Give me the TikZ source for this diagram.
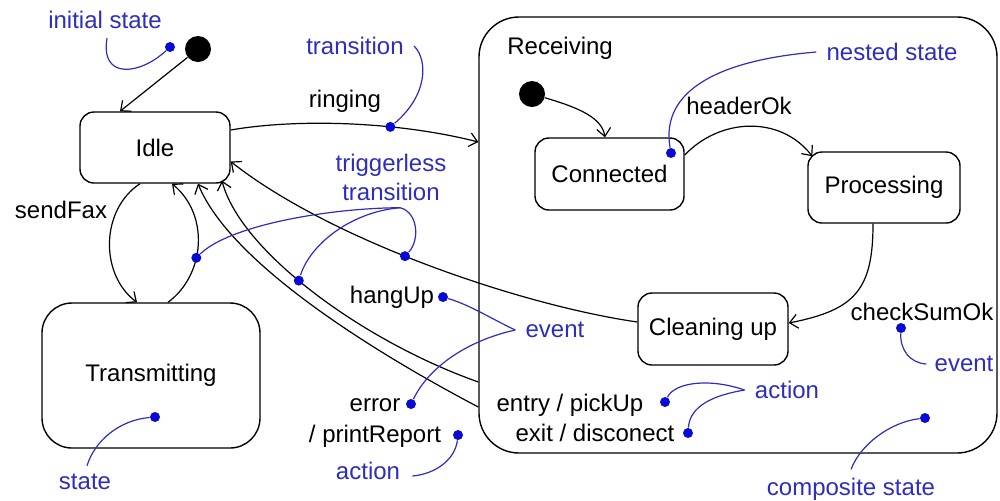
\documentclass[tikz,border=0pt]{standalone}
\usepackage{fontspec}
\setmainfont{Liberation Sans}
\usetikzlibrary{arrows.meta}
\definecolor{noteblue}{RGB}{45,45,190}
\definecolor{dotblue}{RGB}{10,10,215}

\begin{document}
\begin{tikzpicture}[x=0.5pt,y=-0.5pt,font=\fontsize{12}{14.5}\selectfont,
  state/.style={draw,rounded corners=7pt,line width=0.7pt,inner sep=0pt},
  start/.style={circle,fill=black,inner sep=0pt,minimum size=13pt},
  bdot/.style={circle,fill=dotblue,inner sep=0pt,minimum size=5pt},
  note/.style={text=noteblue,inner sep=1pt},
  lbl/.style={inner sep=1pt},
  arr/.style={-{Straight Barb[length=4pt,width=7pt]},line width=0.6pt},
  callout/.style={noteblue,line width=0.6pt}]

\useasboundingbox (0,0) rectangle (1000,500);

% states
\node[state,minimum width=75pt,minimum height=35.5pt] (idle) at (155,147.5) {Idle};
\node[state,rounded corners=15pt,minimum width=109pt,minimum height=72.5pt] (xmit) at (151,375.5) {Transmitting};
\node[state,rounded corners=20pt,minimum width=259pt,minimum height=218pt] (recv) at (738,235) {};
\node[lbl,anchor=west] (recvname) at (505,48) {Receiving};
\node[state,minimum width=74.5pt,minimum height=36pt] (conn) at (609.5,174) {Connected};
\node[state,minimum width=76pt,minimum height=35.5pt] (proc) at (884,187.5) {Processing};
\node[state,minimum width=75pt,minimum height=36pt] (clean) at (713,329) {Cleaning up};
\node[start] (init) at (198,49) {};
\node[start] (init2) at (532,94) {};

% transitions
\draw[arr] (init) -- ([xshift=-17.5pt]idle.north);
\draw[arr] ([yshift=8.75pt]idle.east) .. controls (300,118) and (400,122) .. ([yshift=46.5pt]recv.west) node[bdot,pos=0.65] (dring) {};
\draw[arr] ([xshift=-7.5pt]idle.south) .. controls (100,210) and (100,275) .. ([xshift=-7pt]xmit.north);
\draw[arr] ([xshift=8.5pt]xmit.north) .. controls (205,275) and (210,215) .. ([xshift=8.5pt]idle.south) node[bdot,pos=0.4] (dret) {};
\draw[arr] ([yshift=-86pt]recv.west) .. controls (370,350) and (230,262) .. ([xshift=21.5pt]idle.south);
\draw[arr] ([yshift=-73.5pt]recv.west) .. controls (360,340) and (240,250) .. ([xshift=33.5pt,yshift=1.5pt]idle.south) node[bdot,pos=0.55] (dhang) {};
\draw[arr] ([yshift=3.5pt]clean.west) .. controls (520,305) and (330,240) .. ([yshift=-7pt]idle.east) node[bdot,pos=0.55] (dclean) {};
\draw[arr] (init2) .. controls (580,108) and (602,118) .. ([xshift=-2.25pt]conn.north);
\draw[arr] ([yshift=9.5pt]conn.east) .. controls (720,118) and (780,115) .. ([xshift=2.5pt,yshift=-2.5pt]proc.north west);
\draw[arr] ([xshift=-5.5pt]proc.south) .. controls (873,290) and (855,310) .. ([yshift=3pt]clean.east);

\node[lbl] (lring) at (345,101) {ringing};
\node[lbl] (lsend) at (61,210) {sendFax};
\node[lbl] (lhead) at (739,106) {headerOk};
\node[lbl] (lhang) at (392,297) {hangUp};
\node[lbl] (lerr) at (375,405) {error};
\node[lbl] (lprint) at (375,436) {/ printReport};
\node[lbl] (lcheck) at (922,312) {checkSumOk};
\node[lbl] (lentry) at (570,405) {entry / pickUp};
\node[lbl] (lexit) at (595,433) {exit / disconect};

% notes
\node[bdot] (dinit) at (170,47) {};
\node[bdot] (dconn) at (671,153) {};
\node[bdot] (dhangup) at (443,297) {};
\node[bdot] (derr) at (411,404) {};
\node[bdot] (dprint) at (458,435) {};
\node[bdot] (dstate) at (155,417) {};
\node[bdot] (dcheck) at (901,328) {};
\node[bdot] (dentry) at (665,402) {};
\node[bdot] (dexit) at (688,433) {};
\node[bdot] (dcomp) at (925,418) {};

\node[note] (ninit) at (105,20) {initial state};
\node[note] (ntrans) at (355,46) {transition};
\node[note] (nnest) at (892,52) {nested state};
\node[note,align=center] (ntrig) at (391,177) {triggerless\\transition};
\node[note] (nev1) at (555,330) {event};
\node[note] (nact1) at (368,471) {action};
\node[note] (nstate) at (85,482) {state};
\node[note] (nev2) at (964,364) {event};
\node[note] (nact2) at (787,390) {action};
\node[note] (ncomp) at (851,489) {composite state};

\coordinate (ttrig) at ([xshift=4.5pt,yshift=-2.5pt]ntrig.south);
\coordinate (tev1) at ([xshift=-4pt]nev1.west);
\coordinate (tact2) at ([xshift=-4pt]nact2.west);

\draw[callout] (dinit) .. controls (140,75) and (100,80) .. ([xshift=1pt,yshift=-3.5pt]ninit.south);
\draw[callout] (dring) .. controls (428,95) and (428,60) .. ([xshift=4pt]ntrans.east);
\draw[callout] (dconn) .. controls (660,90) and (720,60) .. ([xshift=-4pt]nnest.west);
\draw[callout] (ttrig) .. controls (330,208) and (230,225) .. (dret);
\draw[callout] (ttrig) .. controls (350,212) and (310,245) .. (dhang);
\draw[callout] (ttrig) .. controls (418,212) and (420,240) .. (dclean);
\draw[callout] (dhangup) .. controls (470,305) and (490,318) .. (tev1);
\draw[callout] (derr) .. controls (430,365) and (470,340) .. (tev1);
\draw[callout] (dprint) .. controls (455,460) and (435,474) .. ([xshift=5pt,yshift=-2.5pt]nact1.east);
\draw[callout] (dstate) .. controls (120,420) and (95,440) .. ([xshift=1pt,yshift=3pt]nstate.north);
\draw[callout] (dcheck) .. controls (900,350) and (910,363) .. ([xshift=-3pt]nev2.west);
\draw[callout] (tact2) .. controls (710,378) and (675,382) .. (dentry);
\draw[callout] (tact2) .. controls (715,395) and (690,405) .. (dexit);
\draw[callout] (dcomp) .. controls (890,422) and (860,445) .. ([yshift=3pt]ncomp.north);

\end{tikzpicture}
\end{document}
